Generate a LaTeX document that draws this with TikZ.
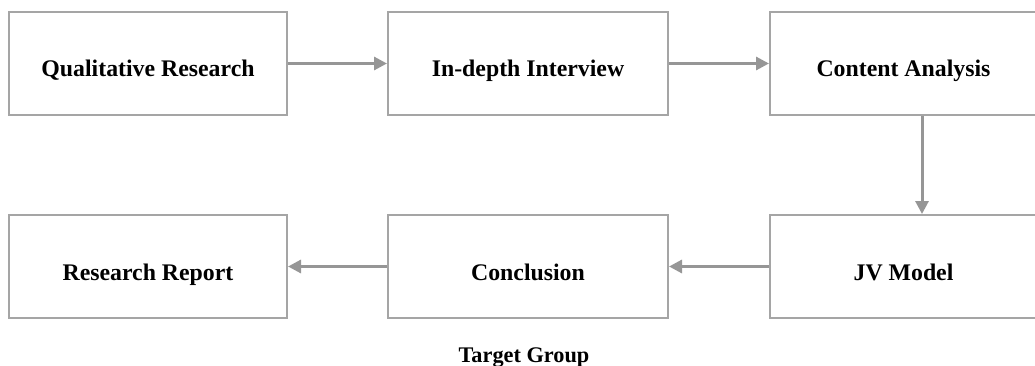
\documentclass[tikz,border=0pt]{standalone}
\usepackage{fontspec}
\setmainfont{Liberation Serif}
\usetikzlibrary{arrows.meta}
\definecolor{boxgray}{RGB}{165,165,165}
\definecolor{arrgray}{RGB}{150,150,150}
\tikzset{
  stepbox/.style={draw=boxgray, line width=2pt, minimum height=103pt, inner sep=0pt,
    text height=27pt, text depth=0pt,
    font=\fontsize{23.8}{26}\selectfont\bfseries, text=black},
  flow/.style={draw=arrgray, line width=3pt, -{Triangle[length=13pt,width=13pt]}}
}
\begin{document}
\begin{tikzpicture}[x=1pt,y=-1pt]
\useasboundingbox (0,0) rectangle (1035,366);
\node[stepbox, minimum width=278pt] (qr) at (148,63.5) {Qualitative Research};
\node[stepbox, minimum width=280pt] (ii) at (528,63.5) {In-depth Interview};
\node[stepbox, minimum width=267pt] (ca) at (903.5,63.5) {Content Analysis};
\node[stepbox, minimum width=278pt] (rr) at (148,266.5) {Research Report};
\node[stepbox, minimum width=280pt] (co) at (528,266.5) {Conclusion};
\node[stepbox, minimum width=267pt] (jv) at (903.5,266.5) {JV Model};
\node[font=\fontsize{22.3}{24}\selectfont\bfseries, anchor=base] (tg) at (524,362) {Target Group};
\draw[flow] (qr.east) -- (ii.west);
\draw[flow] (ii.east) -- (ca.west);
\draw[flow] (ca.south -| 922,0) -- (jv.north -| 922,0);
\draw[flow] (jv.west) -- (co.east);
\draw[flow] (co.west) -- (rr.east);
\end{tikzpicture}
\end{document}
